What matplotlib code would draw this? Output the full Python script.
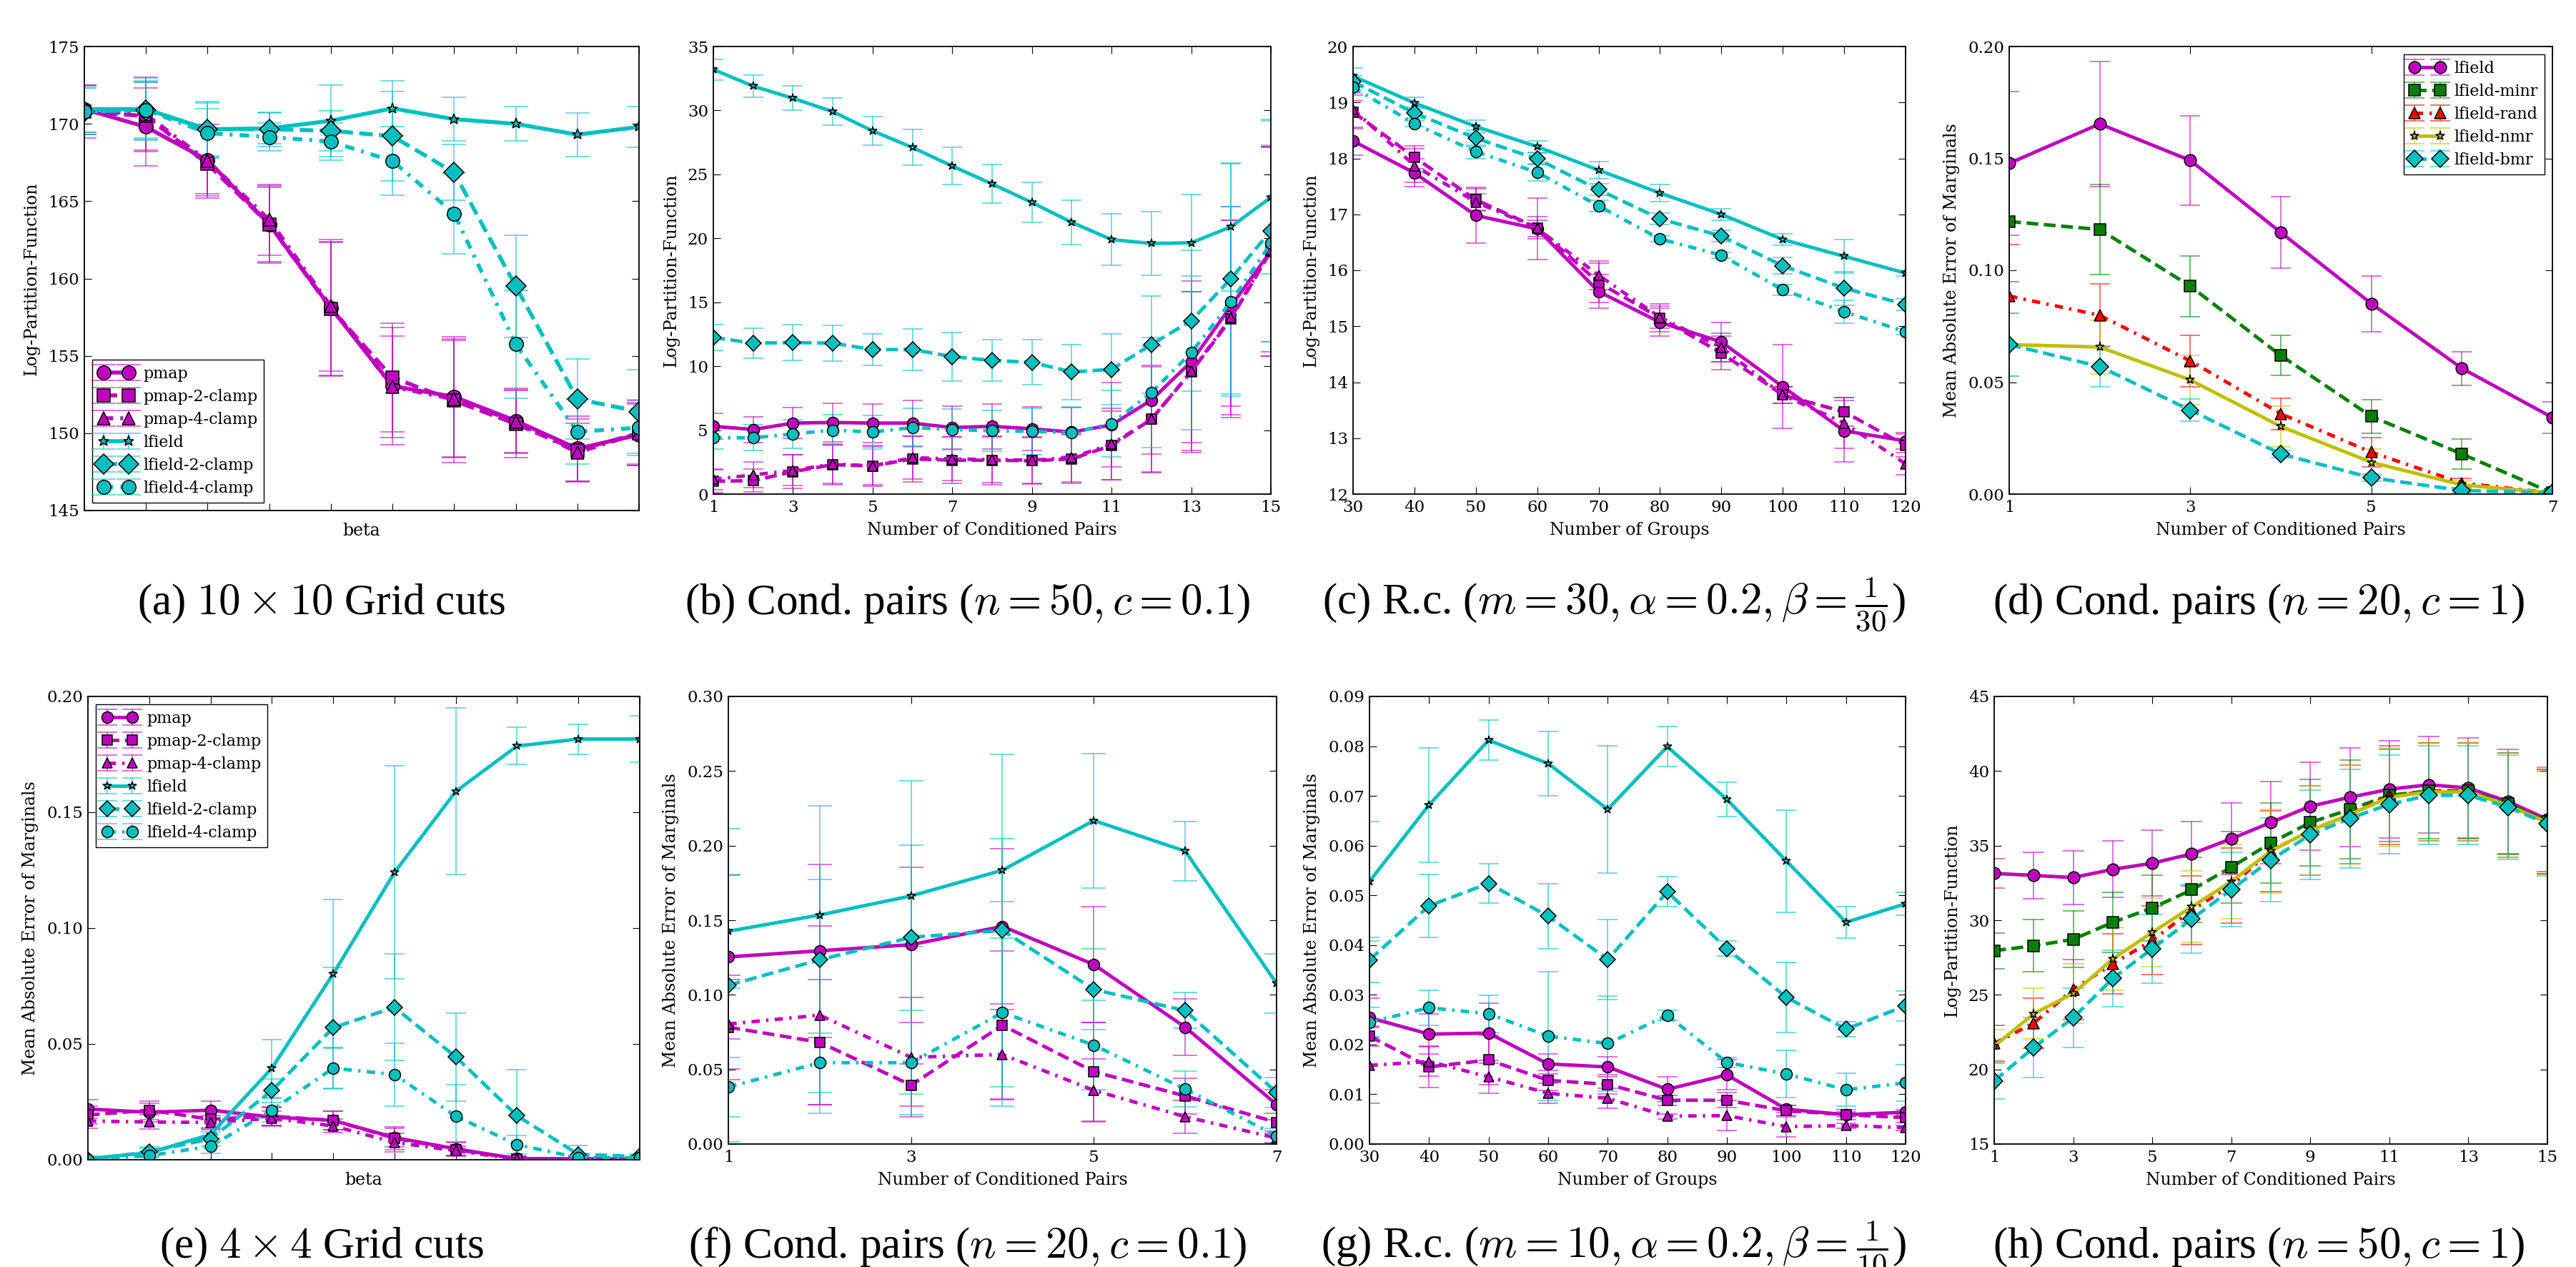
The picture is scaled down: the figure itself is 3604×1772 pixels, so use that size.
import matplotlib
matplotlib.use("Agg")
import matplotlib.pyplot as plt
from matplotlib.colors import to_rgba
from matplotlib.ticker import FormatStrFormatter

# ------------------------------------------------------------------ data
beta_steps = list(range(10))
pairs_15 = list(range(1, 16))
pairs_7 = list(range(1, 8))
groups = [30, 40, 50, 60, 70, 80, 90, 100, 110, 120]

# (a) 10x10 grid, log-partition
a_pmap = [170.95, 169.8, 167.65, 163.5, 158.1, 153.05, 152.35, 150.8, 149.0, 149.9]
a_pmap_err = [1.5, 2.5, 2.3, 2.4, 4.4, 3.8, 3.9, 2.1, 2.1, 2.0]
a_pmap2 = [170.8, 170.5, 167.4, 163.5, 158.05, 153.6, 152.1, 150.6, 148.9, 150.0]
a_pmap2_err = [1.7, 2.2, 2.2, 2.5, 4.3, 3.5, 4.0, 2.2, 2.0, 2.0]
a_pmap4 = [170.9, 170.6, 167.6, 163.8, 158.2, 153.0, 152.2, 150.75, 148.75, 150.0]
a_pmap4_err = [1.6, 2.4, 2.1, 2.3, 4.2, 3.3, 3.8, 2.0, 1.9, 2.1]
a_lf = [170.95, 170.95, 169.65, 169.7, 170.2, 171.0, 170.3, 170.0, 169.3, 169.8]
a_lf_err = [1.5, 2.0, 1.8, 1.0, 2.3, 1.8, 1.4, 1.1, 1.4, 1.3]
a_lf2 = [170.8, 170.9, 169.65, 169.65, 169.55, 169.2, 166.85, 159.5, 152.2, 151.4]
a_lf2_err = [1.5, 1.9, 1.7, 1.1, 1.3, 2.9, 1.8, 3.3, 2.6, 2.7]
a_lf4 = [170.8, 170.9, 169.4, 169.15, 168.85, 167.6, 164.2, 155.75, 150.1, 150.35]
a_lf4_err = [1.5, 1.8, 1.6, 0.9, 1.2, 2.2, 2.6, 3.5, 2.1, 1.8]

# (b) cond. pairs n=50 c=0.1, log-partition
b_pmap = [5.3, 5.05, 5.55, 5.6, 5.55, 5.55, 5.2, 5.3, 5.1, 4.85, 5.4, 7.35, 10.35, 14.7, 19.0]
b_pmap_err = [1.0, 1.0, 1.2, 1.5, 1.5, 1.8, 1.7, 1.75, 1.7, 1.9, 3.3, 4.2, 6.3, 7.8, 8.2]
b_pmap2 = [1.0, 1.05, 1.75, 2.3, 2.2, 2.75, 2.65, 2.65, 2.6, 2.75, 3.8, 5.85, 9.55, 13.7, 19.0]
b_pmap2_err = [0.9, 0.9, 1.3, 1.6, 1.6, 1.8, 1.8, 1.9, 1.8, 1.9, 2.7, 4.2, 6.3, 7.7, 8.2]
b_pmap4 = [1.15, 1.5, 1.85, 2.35, 2.2, 2.85, 2.75, 2.7, 2.65, 2.85, 3.9, 5.85, 9.6, 13.8, 19.1]
b_pmap4_err = [0.8, 1.0, 1.2, 1.5, 1.5, 1.7, 1.7, 1.8, 1.8, 1.9, 2.8, 4.1, 6.2, 7.6, 8.0]
b_lf = [33.2, 31.9, 30.95, 29.9, 28.4, 27.1, 25.65, 24.25, 22.8, 21.25, 19.9, 19.6, 19.65, 20.9, 23.2]
b_lf_err = [0.8, 0.85, 0.95, 1.05, 1.1, 1.4, 1.45, 1.5, 1.55, 1.75, 2.0, 2.5, 3.8, 5.0, 6.0]
b_lf2 = [12.25, 11.8, 11.85, 11.8, 11.3, 11.3, 10.75, 10.45, 10.3, 9.55, 9.75, 11.7, 13.55, 16.85, 20.6]
b_lf2_err = [1.0, 1.15, 1.4, 1.4, 1.25, 1.6, 1.9, 1.6, 1.75, 2.15, 2.75, 3.8, 5.5, 9.0, 8.7]
b_lf4 = [4.4, 4.4, 4.7, 5.0, 4.85, 5.2, 5.05, 4.95, 4.9, 4.8, 5.5, 7.95, 11.05, 15.05, 19.6]
b_lf4_err = [0.9, 1.0, 1.1, 1.2, 1.3, 1.5, 1.6, 1.6, 1.8, 2.0, 2.6, 4.3, 6.0, 7.4, 7.7]

# (c) random clusters m=30, log-partition
c_pmap = [18.31, 17.74, 16.98, 16.74, 15.62, 15.07, 14.72, 13.92, 13.13, 12.95]
c_pmap_err = [0.25, 0.25, 0.5, 0.55, 0.3, 0.25, 0.35, 0.75, 0.55, 0.15]
c_pmap2 = [18.83, 18.02, 17.26, 16.76, 15.78, 15.15, 14.52, 13.77, 13.47, 12.87]
c_pmap2_err = [0.3, 0.2, 0.2, 0.2, 0.35, 0.25, 0.3, 0.15, 0.25, 0.2]
c_pmap4 = [18.88, 17.87, 17.22, 16.75, 15.91, 15.16, 14.62, 13.77, 13.27, 12.54]
c_pmap4_err = [0.15, 0.3, 0.15, 0.15, 0.25, 0.2, 0.25, 0.15, 0.45, 0.2]
c_lf = [19.47, 18.99, 18.57, 18.21, 17.79, 17.38, 17.0, 16.55, 16.25, 15.95]
c_lf_err = [0.15, 0.1, 0.12, 0.1, 0.15, 0.15, 0.1, 0.1, 0.3, 0.05]
c_lf2 = [19.37, 18.81, 18.36, 17.99, 17.44, 16.92, 16.61, 16.08, 15.68, 15.39]
c_lf2_err = [0.1, 0.1, 0.15, 0.1, 0.1, 0.1, 0.1, 0.15, 0.3, 0.1]
c_lf4 = [19.27, 18.62, 18.12, 17.75, 17.15, 16.56, 16.27, 15.65, 15.26, 14.9]
c_lf4_err = [0.1, 0.05, 0.12, 0.15, 0.1, 0.05, 0.05, 0.1, 0.2, 0.05]

# (d) cond. pairs n=20 c=1, marginal error
d_lf = [0.1478, 0.1654, 0.1491, 0.1169, 0.0851, 0.0562, 0.0342]
d_lf_err = [0.032, 0.028, 0.020, 0.016, 0.0125, 0.0075, 0.007]
d_minr = [0.1218, 0.1182, 0.0929, 0.0619, 0.0347, 0.0179, 0.0005]
d_minr_err = [0.027, 0.020, 0.0136, 0.009, 0.0076, 0.0067, 0.001]
d_rand = [0.0885, 0.0799, 0.0595, 0.0359, 0.0187, 0.0049, 0.0005]
d_rand_err = [0.023, 0.014, 0.0115, 0.007, 0.0065, 0.002, 0.0005]
d_nmr = [0.0668, 0.0657, 0.051, 0.0302, 0.0142, 0.0041, 0.0005]
d_nmr_err = [0.014, 0.012, 0.011, 0.009, 0.006, 0.002, 0.0005]
d_bmr = [0.0668, 0.057, 0.0375, 0.0179, 0.0073, 0.0016, 0.0005]
d_bmr_err = [0.014, 0.009, 0.005, 0.0015, 0.0015, 0.001, 0.0005]

# (e) 4x4 grid, marginal error
e_pmap = [0.0219, 0.0205, 0.0214, 0.0184, 0.017, 0.0096, 0.0047, 0.0005, 0.0004, 0.0003]
e_pmap_err = [0.004, 0.004, 0.004, 0.004, 0.004, 0.004, 0.003, 0.001, 0.001, 0.001]
e_pmap2 = [0.0193, 0.0214, 0.0175, 0.0188, 0.017, 0.0093, 0.0044, 0.0004, 0.0003, 0.0003]
e_pmap2_err = [0.004, 0.004, 0.004, 0.004, 0.004, 0.005, 0.003, 0.001, 0.001, 0.001]
e_pmap4 = [0.0167, 0.0163, 0.0161, 0.0179, 0.0146, 0.0075, 0.0039, 0.0002, 0.0002, 0.0002]
e_pmap4_err = [0.003, 0.003, 0.003, 0.003, 0.003, 0.004, 0.002, 0.001, 0.001, 0.001]
e_lf = [0.0005, 0.003, 0.0109, 0.0395, 0.0802, 0.124, 0.159, 0.1786, 0.1816, 0.1816]
e_lf_err = [0.001, 0.002, 0.003, 0.0125, 0.032, 0.046, 0.036, 0.008, 0.0065, 0.01]
e_lf2 = [0.0, 0.0035, 0.009, 0.0298, 0.057, 0.0658, 0.0444, 0.019, 0.0023, 0.0014]
e_lf2_err = [0.001, 0.002, 0.003, 0.005, 0.026, 0.023, 0.019, 0.02, 0.004, 0.001]
e_lf4 = [0.0, 0.0018, 0.0058, 0.0214, 0.0395, 0.0368, 0.0188, 0.0065, 0.0009, 0.0009]
e_lf4_err = [0.001, 0.002, 0.003, 0.005, 0.009, 0.0135, 0.0137, 0.004, 0.001, 0.001]

# (f) cond. pairs n=20 c=0.1, marginal error
f_pmap = [0.1254, 0.1295, 0.1336, 0.1459, 0.1203, 0.0783, 0.0265]
f_pmap_err = [0.055, 0.058, 0.052, 0.052, 0.039, 0.019, 0.01]
f_pmap2 = [0.0783, 0.0682, 0.0395, 0.0796, 0.0485, 0.0322, 0.0145]
f_pmap2_err = [0.035, 0.042, 0.014, 0.05, 0.033, 0.012, 0.006]
f_pmap4 = [0.0804, 0.0864, 0.0581, 0.06, 0.036, 0.0183, 0.004]
f_pmap4_err = [0.03, 0.06, 0.04, 0.03, 0.021, 0.011, 0.003]
f_lf = [0.1426, 0.1535, 0.1663, 0.1835, 0.2168, 0.1963, 0.1077]
f_lf_err = [0.038, 0.024, 0.034, 0.021, 0.045, 0.02, 0.02]
f_lf2 = [0.1064, 0.1235, 0.1385, 0.1432, 0.1036, 0.0894, 0.0346]
f_lf2_err = [0.105, 0.103, 0.105, 0.118, 0.027, 0.012, 0.01]
f_lf4 = [0.0382, 0.0545, 0.0545, 0.0881, 0.0663, 0.0368, 0.0055]
f_lf4_err = [0.02, 0.02, 0.035, 0.05, 0.03, 0.012, 0.005]

# (g) random clusters m=10, marginal error
g_pmap = [0.0254, 0.0221, 0.0223, 0.0161, 0.0155, 0.011, 0.0139, 0.007, 0.0059, 0.0064]
g_pmap_err = [0.004, 0.004, 0.006, 0.002, 0.002, 0.0025, 0.003, 0.0007, 0.0005, 0.0005]
g_pmap2 = [0.0217, 0.0155, 0.0169, 0.0128, 0.012, 0.0088, 0.0088, 0.0067, 0.0059, 0.0053]
g_pmap2_err = [0.002, 0.0042, 0.005, 0.002, 0.002, 0.001, 0.0015, 0.001, 0.001, 0.001]
g_pmap4 = [0.0158, 0.0166, 0.0135, 0.0102, 0.0092, 0.0056, 0.0057, 0.0035, 0.0037, 0.0033]
g_pmap4_err = [0.0076, 0.003, 0.0033, 0.002, 0.002, 0.0005, 0.003, 0.002, 0.0005, 0.0005]
g_lf = [0.0528, 0.0682, 0.0812, 0.0765, 0.0673, 0.0799, 0.0693, 0.0569, 0.0446, 0.0483]
g_lf_err = [0.012, 0.0115, 0.004, 0.0065, 0.0128, 0.004, 0.0035, 0.0103, 0.0032, 0.0023]
g_lf2 = [0.037, 0.0479, 0.0524, 0.0458, 0.0371, 0.0507, 0.0393, 0.0295, 0.0231, 0.0278]
g_lf2_err = [0.0045, 0.0063, 0.004, 0.0065, 0.008, 0.003, 0.0015, 0.007, 0.0015, 0.003]
g_lf4 = [0.0245, 0.0274, 0.0262, 0.0217, 0.0202, 0.0259, 0.0164, 0.0141, 0.0109, 0.0123]
g_lf4_err = [0.003, 0.0035, 0.0037, 0.013, 0.0095, 0.001, 0.001, 0.0047, 0.0033, 0.0037]

# (h) cond. pairs n=50 c=1, log-partition
h_lf = [33.14, 33.0, 32.86, 33.41, 33.82, 34.45, 35.46, 36.55, 37.64, 38.24, 38.78, 39.08, 38.86, 37.96, 36.76]
h_lf_err = [1.0, 1.55, 1.8, 1.9, 2.2, 2.15, 2.4, 2.75, 2.95, 3.3, 3.25, 3.25, 3.35, 3.5, 3.5]
h_minr = [27.96, 28.28, 28.72, 29.86, 30.82, 32.04, 33.55, 35.18, 36.55, 37.42, 38.37, 38.67, 38.67, 37.83, 36.6]
h_minr_err = [1.2, 1.75, 1.9, 2.0, 2.2, 2.2, 2.4, 2.7, 2.9, 3.3, 3.1, 3.2, 3.2, 3.4, 3.5]
h_rand = [21.74, 23.1, 25.36, 27.08, 28.64, 30.68, 32.32, 34.64, 36.0, 37.09, 38.37, 38.6, 38.6, 37.7, 36.6]
h_rand_err = [1.2, 1.7, 2.0, 2.0, 2.3, 2.3, 2.5, 2.7, 3.0, 3.3, 3.3, 3.3, 3.3, 3.5, 3.5]
h_nmr = [21.55, 23.73, 25.09, 27.41, 29.18, 30.9, 32.59, 34.64, 36.0, 37.09, 38.24, 38.6, 38.6, 37.7, 36.55]
h_nmr_err = [1.1, 1.7, 2.0, 2.1, 2.3, 2.4, 2.5, 2.8, 3.0, 3.3, 3.3, 3.3, 3.3, 3.5, 3.5]
h_bmr = [19.23, 21.47, 23.46, 26.1, 28.09, 30.08, 32.05, 34.04, 35.73, 36.82, 37.77, 38.37, 38.37, 37.58, 36.46]
h_bmr_err = [1.2, 2.0, 2.0, 1.9, 2.3, 2.3, 2.5, 2.8, 3.0, 3.3, 3.3, 3.3, 3.3, 3.5, 3.5]

clamp_labels = ["pmap", "pmap-2-clamp", "pmap-4-clamp", "lfield", "lfield-2-clamp", "lfield-4-clamp"]
cond_labels = ["lfield", "lfield-minr", "lfield-rand", "lfield-nmr", "lfield-bmr"]

captions = [
    r"(a) $10\times10$ Grid cuts",
    r"(b) Cond. pairs ($n=50, c=0.1$)",
    r"(c) R.c. ($m=30, \alpha=0.2, \beta=\frac{1}{30}$)",
    r"(d) Cond. pairs ($n=20, c=1$)",
    r"(e) $4\times4$ Grid cuts",
    r"(f) Cond. pairs ($n=20, c=0.1$)",
    r"(g) R.c. ($m=10, \alpha=0.2, \beta=\frac{1}{10}$)",
    r"(h) Cond. pairs ($n=50, c=1$)",
]

# ------------------------------------------------------------------ style
plt.rcParams.update({
    "font.family": ["DejaVu Serif"],
    "mathtext.fontset": "cm",
    "xtick.direction": "in", "ytick.direction": "in",
    "xtick.top": True, "ytick.right": True,
    "xtick.major.size": 7, "ytick.major.size": 7,
    "xtick.major.width": 0.8, "ytick.major.width": 0.8,
    "xtick.major.pad": 6, "ytick.major.pad": 5,
    "axes.linewidth": 1.3,
    "lines.dashed_pattern": [3.4, 1.6],
    "lines.dashdot_pattern": [2.4, 1.8, 0.7, 1.8],
})

MAG = (0.75, 0.0, 0.75)
CYA = (0.0, 0.75, 0.75)
GRN = (0.0, 0.5, 0.0)
RED = (1.0, 0.0, 0.0)
YEL = (0.75, 0.75, 0.0)

clamp_styles = [(MAG, "-", "o"), (MAG, "--", "s"), (MAG, "-.", "^"),
                (CYA, "-", "*"), (CYA, "--", "D"), (CYA, "-.", "o")]
cond_styles = [(MAG, "-", "o"), (GRN, "--", "s"), (RED, "-.", "^"),
               (YEL, "-", "*"), (CYA, "--", "D")]

W, H = 3605, 1772
fig = plt.figure(figsize=(W / 100, H / 100), dpi=100)


def add_ax(l, r, t, b):
    return fig.add_axes([l / W, 1 - b / H, (r - l) / W, (b - t) / H])


def draw(ax, x, ys, errs, labels, styles, ms, lw, cs):
    for y, e, lab, (col, ls, mk) in zip(ys, errs, labels, styles):
        m = ms * (0.8 if mk == "*" else (0.92 if mk in ("s", "^") else 1.0))
        ax.errorbar(x, y, yerr=e, color=col, ls=ls, lw=lw, marker=mk, ms=m,
                    mfc=col, mec="k", mew=1.1, ecolor=to_rgba(col, 0.7),
                    elinewidth=1.1, capsize=cs, capthick=1.1, label=lab)


def finish(ax, xlim, ylim, xticks, yticks, xlabel, ylabel, yfmt=None, xlabels=True):
    ax.set_xlim(*xlim)
    ax.set_ylim(*ylim)
    ax.set_xticks(xticks)
    ax.set_yticks(yticks)
    if not xlabels:
        ax.set_xticklabels([])
    if yfmt:
        ax.yaxis.set_major_formatter(FormatStrFormatter(yfmt))
    ax.tick_params(labelsize=16.5)
    ax.set_xlabel(xlabel, fontsize=17, labelpad=6)
    ax.set_ylabel(ylabel, fontsize=17, labelpad=8)


def legend(ax, loc):
    ax.legend(loc=loc, fontsize=16, numpoints=2, handlelength=2.2, fancybox=False,
              edgecolor="k", framealpha=1, borderpad=0.4, labelspacing=0.45,
              handletextpad=0.6)


LPF = "Log-Partition-Function"
MAE = "Mean Absolute Error of Marginals"
NCP = "Number of Conditioned Pairs"
NG = "Number of Groups"

# (a)
ax = add_ax(118, 894, 65, 714)
draw(ax, beta_steps, [a_pmap, a_pmap2, a_pmap4, a_lf, a_lf2, a_lf4],
     [a_pmap_err, a_pmap2_err, a_pmap4_err, a_lf_err, a_lf2_err, a_lf4_err],
     clamp_labels, clamp_styles, ms=14, lw=4.0, cs=12.5)
finish(ax, (0, 9), (145, 175), beta_steps, range(145, 176, 5), "beta", LPF, xlabels=False)
legend(ax, "lower left")

# (b)
ax = add_ax(998, 1778, 65, 691)
draw(ax, pairs_15, [b_pmap, b_pmap2, b_pmap4, b_lf, b_lf2, b_lf4],
     [b_pmap_err, b_pmap2_err, b_pmap4_err, b_lf_err, b_lf2_err, b_lf4_err],
     clamp_labels, clamp_styles, ms=11.5, lw=3.5, cs=10)
finish(ax, (1, 15), (0, 35), range(1, 16, 2), range(0, 36, 5), NCP, LPF)

# (c)
ax = add_ax(1893, 2666, 65, 691)
draw(ax, groups, [c_pmap, c_pmap2, c_pmap4, c_lf, c_lf2, c_lf4],
     [c_pmap_err, c_pmap2_err, c_pmap4_err, c_lf_err, c_lf2_err, c_lf4_err],
     clamp_labels, clamp_styles, ms=11.5, lw=3.5, cs=10)
finish(ax, (30, 120), (12, 20), groups, range(12, 21), NG, LPF)

# (d)
ax = add_ax(2811, 3571, 65, 691)
draw(ax, pairs_7, [d_lf, d_minr, d_rand, d_nmr, d_bmr],
     [d_lf_err, d_minr_err, d_rand_err, d_nmr_err, d_bmr_err],
     cond_labels, cond_styles, ms=12, lw=3.5, cs=10)
finish(ax, (1, 7), (0, 0.2), [1, 3, 5, 7], [0, 0.05, 0.10, 0.15, 0.20], NCP, MAE, yfmt="%.2f")
legend(ax, "upper right")

# (e)
ax = add_ax(123, 895, 974, 1622)
draw(ax, beta_steps, [e_pmap, e_pmap2, e_pmap4, e_lf, e_lf2, e_lf4],
     [e_pmap_err, e_pmap2_err, e_pmap4_err, e_lf_err, e_lf2_err, e_lf4_err],
     clamp_labels, clamp_styles, ms=11.5, lw=3.5, cs=10)
finish(ax, (0, 9), (0, 0.2), beta_steps, [0, 0.05, 0.10, 0.15, 0.20], "beta", MAE,
       yfmt="%.2f", xlabels=False)
legend(ax, "upper left")

# (f)
ax = add_ax(1019, 1786, 974, 1600)
draw(ax, pairs_7, [f_pmap, f_pmap2, f_pmap4, f_lf, f_lf2, f_lf4],
     [f_pmap_err, f_pmap2_err, f_pmap4_err, f_lf_err, f_lf2_err, f_lf4_err],
     clamp_labels, clamp_styles, ms=11.5, lw=3.5, cs=12)
finish(ax, (1, 7), (0, 0.3), [1, 3, 5, 7], [0, 0.05, 0.10, 0.15, 0.20, 0.25, 0.30], NCP, MAE,
       yfmt="%.2f")

# (g)
ax = add_ax(1916, 2666, 974, 1600)
draw(ax, groups, [g_pmap, g_pmap2, g_pmap4, g_lf, g_lf2, g_lf4],
     [g_pmap_err, g_pmap2_err, g_pmap4_err, g_lf_err, g_lf2_err, g_lf4_err],
     clamp_labels, clamp_styles, ms=11.5, lw=3.5, cs=10)
finish(ax, (30, 120), (0, 0.09), groups, [i / 100 for i in range(10)], NG, MAE, yfmt="%.2f")

# (h)
ax = add_ax(2790, 3564, 974, 1600)
draw(ax, pairs_15, [h_lf, h_minr, h_rand, h_nmr, h_bmr],
     [h_lf_err, h_minr_err, h_rand_err, h_nmr_err, h_bmr_err],
     cond_labels, cond_styles, ms=12, lw=3.5, cs=11)
finish(ax, (1, 15), (15, 45), range(1, 16, 2), range(15, 46, 5), NCP, LPF)

# captions
cap_x = [450, 1354, 2258, 3160]
cap_y = [859, 1759]
for i, cap in enumerate(captions):
    fig.text(cap_x[i % 4] / W, 1 - cap_y[i // 4] / H, cap, ha="center", va="baseline",
             fontsize=44, family=["Liberation Serif", "DejaVu Serif"])

fig.savefig("out.png", dpi=100)
